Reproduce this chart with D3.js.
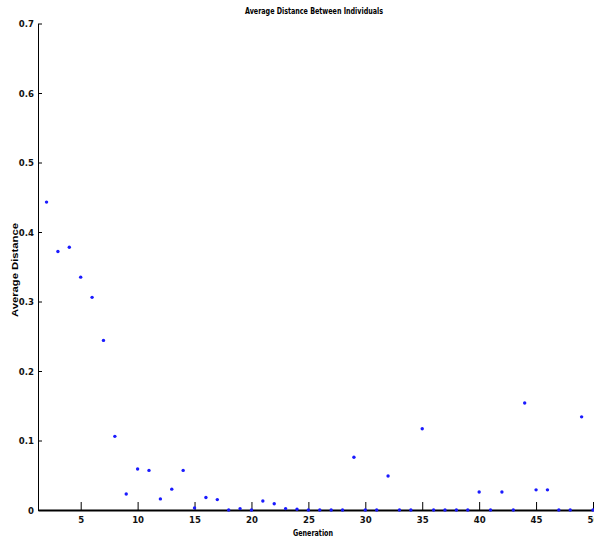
<!DOCTYPE html>
<html>
<head>
<meta charset="utf-8">
<script src="https://cdn.jsdelivr.net/npm/d3@7"></script>
<style>
  body { margin: 0; background: #fff; }
  svg { display: block; }
  .axis text { font-family: "Liberation Sans Narrow", "DejaVu Sans Condensed", sans-serif; font-size: 9.5px; font-weight: bold; fill: #111; }
  .axis path, .axis line { stroke: #000; }
</style>
</head>
<body>
<svg width="594" height="542"></svg>
<script>
// generations and the average distance measured at each one
var generations = [2, 3, 4, 5, 6, 7, 8, 9, 10, 11, 12, 13, 14, 15, 16, 17, 18, 19, 20,
  21, 22, 23, 24, 25, 26, 27, 28, 29, 30, 31, 32, 33, 34, 35, 36, 37, 38, 39, 40,
  41, 42, 43, 44, 45, 46, 47, 48, 49, 50];
var distances = [0.443, 0.372, 0.378, 0.335, 0.306, 0.244, 0.106, 0.023, 0.059, 0.057,
  0.016, 0.030, 0.057, 0.003, 0.018, 0.015, 0, 0.002, 0, 0.013,
  0.009, 0.002, 0.001, 0, 0, 0, 0, 0.076, 0, 0,
  0.049, 0, 0, 0.117, 0, 0, 0, 0, 0.026, 0,
  0.026, 0, 0.154, 0.029, 0.029, 0, 0, 0.134, 0];
var xTicks = [5, 10, 15, 20, 25, 30, 35, 40, 45, 50];
var yTicks = [0, 0.1, 0.2, 0.3, 0.4, 0.5, 0.6, 0.7];

var svg = d3.select("svg");

// plot area in pixels (window.top is taken, so own names)
var plotLeft = 38, plotRight = 593, plotTop = 23.5, plotBottom = 510;

var x = d3.scaleLinear().domain([1.25, 50]).range([plotLeft, plotRight]);
var y = d3.scaleLinear().domain([0, 0.7]).range([plotBottom, plotTop]);

// x axis, ticks pointing inward like matlab
var gx = svg.append("g")
    .attr("class", "axis")
    .attr("transform", "translate(0," + plotBottom + ")")
    .call(d3.axisBottom(x).tickValues(xTicks).tickFormat(d3.format("d"))
      .tickSizeInner(-8).tickSizeOuter(0).tickPadding(6));
gx.select(".domain").attr("stroke-width", 2);

var gy = svg.append("g")
    .attr("class", "axis")
    .attr("transform", "translate(" + plotLeft + ",0)")
    .call(d3.axisLeft(y).tickValues(yTicks).tickFormat(function(d) { return d === 0 ? "0" : d3.format(".1f")(d); })
      .tickSizeInner(-4).tickSizeOuter(0).tickPadding(4));
gy.select(".domain").attr("stroke", "#444");

// the points
svg.append("g").selectAll("circle")
  .data(generations)
  .enter().append("circle")
    .attr("cx", function(d) { return x(d); })
    .attr("cy", function(d, i) { return y(distances[i]); })
    .attr("r", 1.7)
    .attr("fill", "#1a1aff");

// title and labels, squeezed to the widths in the original
svg.append("text")
    .attr("x", 314).attr("y", 14)
    .attr("text-anchor", "middle")
    .attr("textLength", 138).attr("lengthAdjust", "spacingAndGlyphs")
    .style("font-family", "'Liberation Sans Narrow', 'DejaVu Sans Condensed', sans-serif")
    .style("font-size", "9.5px")
    .style("font-weight", "bold")
    .text("Average Distance Between Individuals");

svg.append("text")
    .attr("x", 313).attr("y", 536)
    .attr("text-anchor", "middle")
    .attr("textLength", 40).attr("lengthAdjust", "spacingAndGlyphs")
    .style("font-family", "'Liberation Sans Narrow', 'DejaVu Sans Condensed', sans-serif")
    .style("font-size", "9.5px")
    .style("font-weight", "bold")
    .text("Generation");

svg.append("text")
    .attr("transform", "translate(18,270) rotate(-90)")
    .attr("text-anchor", "middle")
    .attr("textLength", 94).attr("lengthAdjust", "spacingAndGlyphs")
    .style("font-family", "'Liberation Sans', Arial, sans-serif")
    .style("font-size", "9px")
    .style("font-weight", "bold")
    .text("Average Distance");
</script>
</body>
</html>
